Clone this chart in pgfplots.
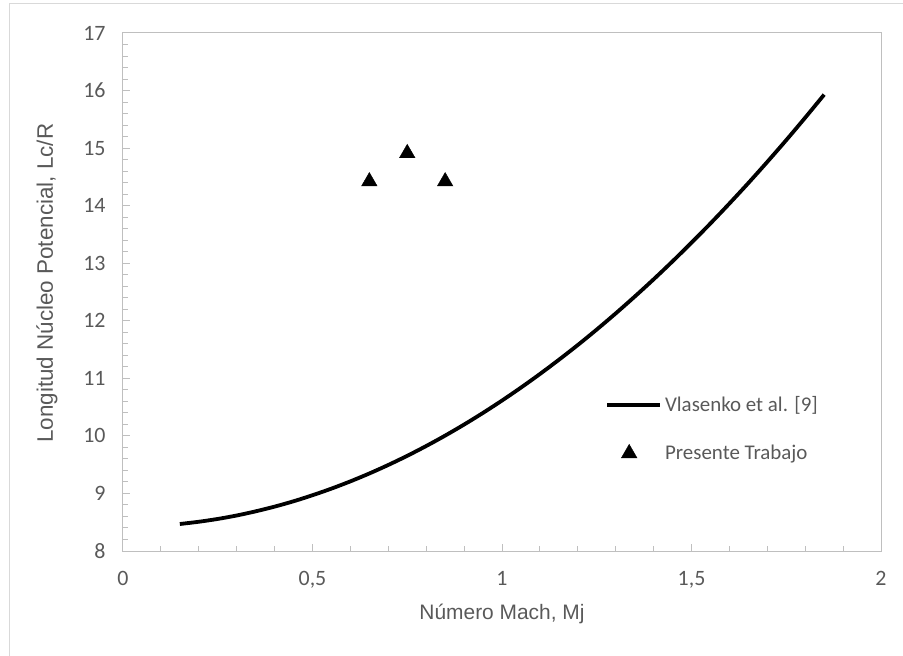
\documentclass[border=0pt]{standalone}
\usepackage{fontspec}
\setmainfont{Carlito}
\newfontfamily\arialf{Liberation Sans}
\usepackage{pgfplots}
\pgfplotsset{compat=1.18}
\definecolor{txt}{RGB}{89,89,89}
\definecolor{axgray}{RGB}{191,191,191}

\begin{document}
\begin{tikzpicture}
\useasboundingbox (-123bp,-105bp) rectangle (780bp,551bp);
% outer chart frame
\draw[black!15, line width=1bp] (-113bp,-140bp) -- (-113bp,547bp) -- (820bp,547bp);
\begin{axis}[
  scale only axis,
  width=758bp, height=518bp,
  xmin=0, xmax=2, ymin=8, ymax=17,
  xtick={0,0.5,1,1.5,2},
  ytick={8,9,...,17},
  minor x tick num=4,
  minor y tick num=4,
  tick align=inside,
  xtick pos=bottom, ytick pos=left,
  major tick length=7bp, minor tick length=5bp,
  axis line style={axgray, line width=1bp},
  every tick/.style={axgray, line width=1bp},
  /pgf/number format/use comma,
  /pgf/number format/assume math mode=true,
  ticklabel style={font=\fontsize{22}{26}\selectfont, text=txt},
  yticklabel style={xshift=-14bp},
  xticklabel style={yshift=-17bp},
  every axis x label/.style={at={(rel axis cs:0.5,0)}, anchor=center, yshift=-63bp,
    font=\arialf\fontsize{21}{25}\selectfont},
  every axis y label/.style={at={(rel axis cs:0,0.517)}, rotate=90, anchor=center, yshift=76bp,
    font=\arialf\fontsize{22.5}{26}\selectfont},
  label style={text=txt},
  xlabel={Número Mach, Mj},
  ylabel={Longitud Núcleo Potencial, Lc/R},
  legend style={draw=none, fill=none, at={(rel axis cs:0.636,0.304)}, anchor=north west,
    font=\fontsize{21}{25}\selectfont, text=txt, inner sep=0pt, row sep=26bp,
    nodes={inner sep=3bp}},
  legend cell align=left,
]
\addplot[black, line width=3.8bp, smooth,
  legend image code/.code={\draw[black, line width=3.8bp] (0bp,0bp) -- (53bp,0bp);}]
coordinates {
(0.15,8.469) (0.20,8.508) (0.25,8.557) (0.30,8.617) (0.35,8.689) (0.40,8.771)
(0.45,8.864) (0.50,8.969) (0.55,9.084) (0.60,9.210) (0.65,9.347) (0.70,9.495)
(0.75,9.654) (0.80,9.824) (0.85,10.005) (0.90,10.197) (0.95,10.400) (1.00,10.614)
(1.05,10.839) (1.10,11.075) (1.15,11.322) (1.20,11.579) (1.25,11.848) (1.30,12.128)
(1.35,12.419) (1.40,12.720) (1.45,13.033) (1.50,13.357) (1.55,13.691) (1.60,14.037)
(1.65,14.393) (1.70,14.761) (1.75,15.139) (1.80,15.529) (1.85,15.929)
};
\addlegendentry{Vlasenko et al. [9]}
\addplot[only marks, mark=triangle*, mark size=9bp, black,
  legend image code/.code={\draw[black, only marks, mark=triangle*, mark size=9bp] plot coordinates {(22bp,0bp)};}]
coordinates {(0.65,14.42) (0.75,14.91) (0.85,14.42)};
\addlegendentry{Presente Trabajo}
\end{axis}
\end{tikzpicture}
\end{document}
